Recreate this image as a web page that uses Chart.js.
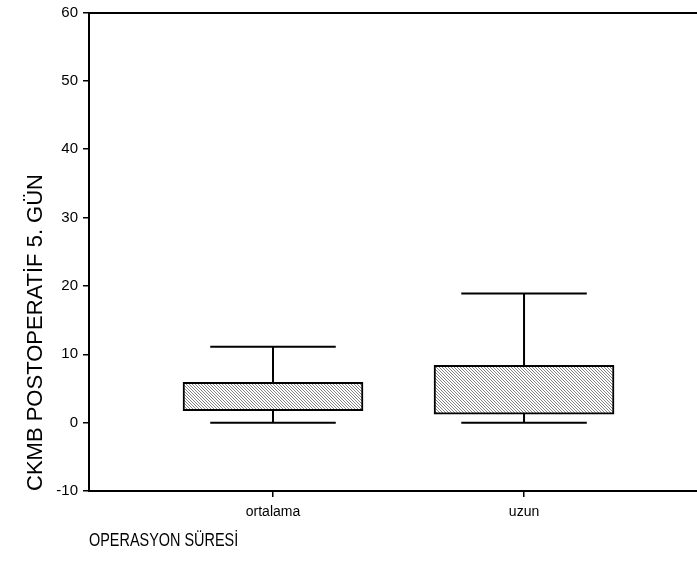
<!DOCTYPE html>
<html>
<head>
<meta charset="utf-8">
<script src="https://cdn.jsdelivr.net/npm/chart.js@4"></script>
<style>
html,body{margin:0;padding:0;background:#fff;}
#wrap{width:697px;height:579px;}
</style>
</head>
<body>
<div id="wrap"><canvas id="c" width="697" height="579"></canvas></div>
<script>
const categories = ['ortalama', 'uzun'];
const whiskerLow = [0, 0];
const q1 = [1.75, 1.25];
const median = [3.0, 4.1];
const q3 = [5.9, 8.4];
const whiskerHigh = [11.1, 18.9];
const yTicks = [-10, 0, 10, 20, 30, 40, 50, 60];
const xTitle = 'OPERASYON SÜRESİ';
const yTitle = 'CKMB POSTOPERATİF 5. GÜN';

// hatch pattern
const pc = document.createElement('canvas');
pc.width = 3; pc.height = 3;
const pctx = pc.getContext('2d');
pctx.fillStyle = '#fff'; pctx.fillRect(0,0,3,3);
pctx.fillStyle = '#858585';
for (let i = 0; i < 3; i++) pctx.fillRect(i, i, 1, 1);
const ctx = document.getElementById('c').getContext('2d');
const hatch = ctx.createPattern(pc, 'repeat');

const CAP = 0.25, BOXHALF = 0.357;
const lineDs = (pts) => ({
  type: 'line', data: pts, borderColor: '#000', borderWidth: 2,
  pointRadius: 0, fill: false, tension: 0, showLine: true
});
const datasets = [];
categories.forEach((c, i) => {
  const x = i + 1;
  datasets.push(lineDs([{x: x, y: q3[i]}, {x: x, y: whiskerHigh[i]}]));
  datasets.push(lineDs([{x: x, y: whiskerLow[i]}, {x: x, y: q1[i]}]));
  datasets.push(lineDs([{x: x - CAP, y: whiskerHigh[i]}, {x: x + CAP, y: whiskerHigh[i]}]));
  datasets.push(lineDs([{x: x - CAP, y: whiskerLow[i]}, {x: x + CAP, y: whiskerLow[i]}]));
});
datasets.push({
  type: 'bar',
  data: categories.map((c, i) => ({x: i + 1, y: [q1[i], q3[i]]})),
  backgroundColor: hatch, borderColor: '#000', borderWidth: 2,
  borderSkipped: false, barThickness: 180
});
categories.forEach((c, i) => {
  const x = i + 1;
  datasets.push(lineDs([{x: x - BOXHALF, y: median[i]}, {x: x + BOXHALF, y: median[i]}]));
});

const FONT = "'Liberation Sans', Arial, sans-serif";

const xTitlePlugin = {
  id: 'xTitle',
  afterDraw(chart) {
    const c = chart.ctx;
    c.save();
    c.font = '19px ' + FONT;
    c.fillStyle = '#000';
    c.textBaseline = 'middle';
    c.textAlign = 'left';
    c.translate(chart.chartArea.left, 541);
    c.scale(0.76, 1);
    c.fillText(xTitle, 0, 0);
    c.restore();
  }
};

new Chart(ctx, {
  type: 'bar',
  data: { datasets },
  plugins: [xTitlePlugin],
  options: {
    responsive: false, animation: false,
    layout: { padding: 0 },
    plugins: { legend: { display: false }, tooltip: { enabled: false } },
    scales: {
      x: {
        type: 'linear', position: 'bottom', min: 0.267, max: 2.689, offset: false,
        afterBuildTicks: (s) => { s.ticks = categories.map((c, i) => ({value: i + 1})); },
        afterFit: (s) => { s.height = 88; },
        ticks: { callback: (v) => categories[v - 1] || '', color: '#000', font: {family: FONT, size: 14}, padding: 7, maxRotation: 0, autoSkip: false },
        grid: { offset: false, drawOnChartArea: false, drawTicks: true, tickLength: 6, tickColor: '#000', lineWidth: 1.5 },
        border: { display: true, color: '#000', width: 2 }
      },
      x2: {
        type: 'linear', position: 'top', min: 0.267, max: 2.689, display: true, offset: false,
        afterFit: (s) => { s.height = 11; },
        ticks: { display: false },
        grid: { display: false },
        border: { display: true, color: '#000', width: 2 }
      },
      y: {
        type: 'linear', min: -10, max: 60,
        afterBuildTicks: (s) => { s.ticks = yTicks.map(v => ({value: v})); },
        afterFit: (s) => { s.width = 89; },
        ticks: { color: '#000', font: {family: FONT, size: 15, lineHeight: 1.0}, padding: 5 },
        grid: { drawOnChartArea: false, drawTicks: true, tickLength: 6, tickColor: '#000', lineWidth: 1.5 },
        border: { display: true, color: '#000', width: 2 },
        title: { display: true, text: yTitle, align: 'start', color: '#000',
                 font: {family: FONT, size: 22}, padding: {top: 23, bottom: 0} }
      }
    }
  }
});
</script>
</body>
</html>
